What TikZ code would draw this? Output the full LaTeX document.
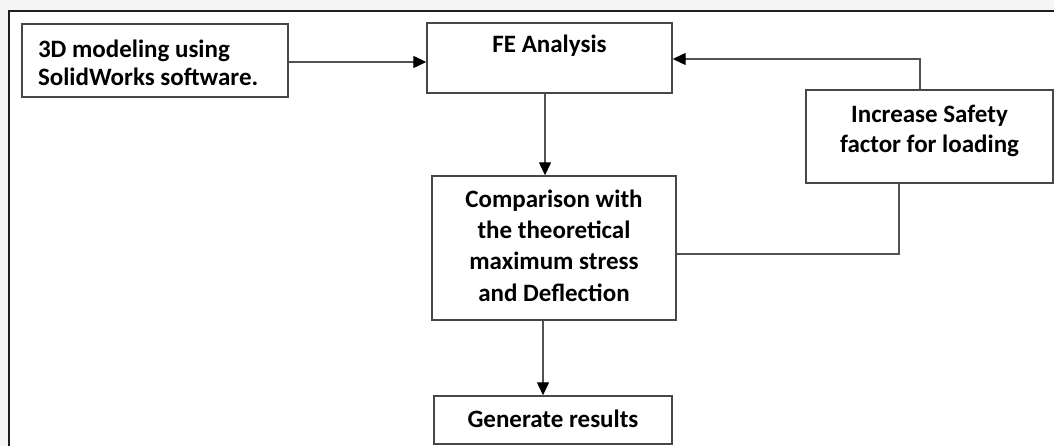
\documentclass[tikz,border=0pt]{standalone}
\usepackage{fontspec}
\setmainfont{Carlito}
\usetikzlibrary{arrows.meta}
\begin{document}
\begin{tikzpicture}[x=1pt,y=-1pt,
  fbox/.style={draw=black!72, line width=1.4pt, inner sep=0pt, font=\bfseries},
  conn/.style={draw=black!68, line width=1.3pt},
  arr/.style={conn, -{Triangle[length=13pt,width=12pt,color=black]}}]
\useasboundingbox (0,0) rectangle (1054,446);
\fill[black!4] (0,0) rectangle (1054,446);
\fill[white] (9,11) rectangle (1054,446);
\draw[line width=1.5pt, black!88] (9,446) -- (9,11) -- (1054,11);

\node[fbox] (model) at (155,60.5) {\parbox[t][73pt][t]{266pt}{\fontsize{25}{28}\selectfont\raggedright\leftskip=16pt\rule{0pt}{34pt}3D modeling using\\SolidWorks software.}};
\node[fbox] (fe) at (549.5,58) {\parbox[t][70pt][t]{245pt}{\fontsize{25}{30}\selectfont\centering\rule{0pt}{30pt}FE Analysis}};
\node[fbox] (inc) at (929.5,136.5) {\parbox[t][93pt][t]{247pt}{\fontsize{25}{30}\selectfont\centering\rule{0pt}{33pt}Increase Safety\\factor for loading}};
\node[fbox] (comp) at (554,248) {\parbox[t][144pt][t]{244pt}{\fontsize{25}{31}\selectfont\centering\rule{0pt}{32pt}Comparison with\\the theoretical\\maximum stress\\and Deflection}};
\node[fbox] (gen) at (553,420) {\parbox[t][48pt][t]{238pt}{\fontsize{25}{30}\selectfont\centering\rule{0pt}{31pt}Generate results}};

\draw[arr] (model.east |- 0,62) -- (fe.west |- 0,62);
\draw[arr] (fe.south -| 545,0) -- (comp.north -| 545,0);
\draw[arr] (comp.south -| 543,0) -- (gen.north -| 543,0);
\draw[conn] (comp.east |- 0,254) -| (inc.south -| 899,0);
\draw[arr] (inc.north -| 920,0) |- (fe.east |- 0,59);
\end{tikzpicture}
\end{document}
